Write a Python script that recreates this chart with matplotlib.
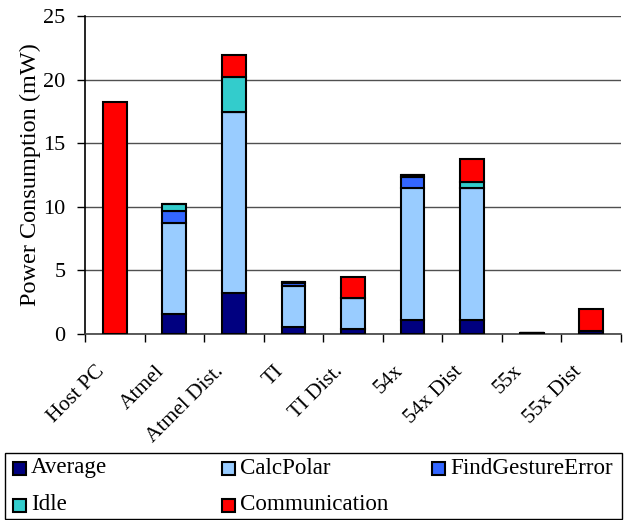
import matplotlib
matplotlib.use("Agg")
import matplotlib.pyplot as plt
import matplotlib.transforms as mtransforms
from matplotlib.patches import Rectangle
import numpy as np

plt.rcParams["font.family"] = ["Liberation Serif", "DejaVu Serif"]

# ── Data (mW) ──────────────────────────────────────────────────────────────────
categories   = ["Host PC", "Atmel", "Atmel Dist.", "TI", "TI Dist.",
                "54x", "54x Dist", "55x", "55x Dist"]
average      = [0.0, 1.6, 3.25, 0.55, 0.4, 1.1, 1.1, 0.1, 0.25]
calc_polar   = [0.0, 7.1, 14.2, 3.2, 2.4, 10.35, 10.35, 0.0, 0.0]
find_gesture = [0.0, 1.0, 0.0, 0.25, 0.0, 0.92, 0.05, 0.0, 0.0]
idle         = [0.0, 0.5, 2.75, 0.1, 0.0, 0.15, 0.45, 0.0, 0.0]
communic     = [18.2, 0.0, 1.7, 0.0, 1.7, 0.0, 1.8, 0.0, 1.7]

series_names  = ["Average", "CalcPolar", "FindGestureError", "Idle", "Communication"]
series_vals   = [average, calc_polar, find_gesture, idle, communic]
series_colors = ["#000080", "#99CCFF", "#3366FF", "#33CCCC", "#FF0000"]

# ── Figure ─────────────────────────────────────────────────────────────────────
fig = plt.figure(figsize=(6.26, 5.20), dpi=100)
W, H = 626, 520
ax = fig.add_axes([85 / W, (H - 334) / H, (621 - 85) / W, (334 - 16) / H])

x = np.arange(len(categories))
bottom = np.zeros(len(categories))
for name, vals, col in zip(series_names, series_vals, series_colors):
    vals = np.array(vals)
    ax.bar(x, vals, width=0.4, bottom=bottom, color=col, edgecolor="black",
           linewidth=1.5, label=name, zorder=3)
    bottom += vals

ax.set_xlim(-0.5, len(categories) - 0.5)
ax.set_ylim(0, 25)
ax.set_yticks(np.arange(0, 26, 5))
ax.yaxis.grid(True, color="#505050", linewidth=1.0, zorder=0)
ax.tick_params(axis="y", direction="out", length=6, width=1, pad=8, labelsize=16)

# category boundaries as tick marks, labels at bar centres
ax.set_xticks(x)
ax.set_xticks(np.arange(-0.5, len(categories)), minor=True)
ax.tick_params(axis="x", which="major", length=0, pad=20, labelsize=15.5)
ax.tick_params(axis="x", which="minor", direction="out", length=6, width=1)
ax.set_xticklabels(categories, rotation=45, ha="right", va="top")
offset = mtransforms.ScaledTranslation(-6 / 100, 0, fig.dpi_scale_trans)
for lab in ax.get_xticklabels():
    lab.set_transform(lab.get_transform() + offset)

for s in ["top", "right"]:
    ax.spines[s].set_visible(False)
ax.spines["left"].set_linewidth(1.2)
ax.spines["bottom"].set_color("#404040")
ax.spines["bottom"].set_linewidth(1.2)

ax.set_ylabel("Power Consumption (mW)", fontsize=17.5)
ax.yaxis.set_label_coords(-0.083, 0.5)

# ── Legend box (Excel-style, equal columns) ───────────────────────────────────
fig.add_artist(Rectangle((5 / W, 1 / H), 617 / W, 66 / H,
                         transform=fig.transFigure, fill=False,
                         edgecolor="black", linewidth=1.0))
col_x = [13, 222, 432]
row_y = [468, 505]
sq = 13
for i, (name, col) in enumerate(zip(series_names, series_colors)):
    cx = col_x[i % 3]
    cy = row_y[i // 3]
    fig.add_artist(Rectangle((cx / W, (H - cy - sq / 2) / H), sq / W, sq / H,
                             transform=fig.transFigure, facecolor=col,
                             edgecolor="black", linewidth=1.5))
    fig.text((cx + sq + 5) / W, (H - cy) / H, name, fontsize=16.6,
             ha="left", va="center")

fig.savefig("out.png", dpi=100)
plt.close(fig)
